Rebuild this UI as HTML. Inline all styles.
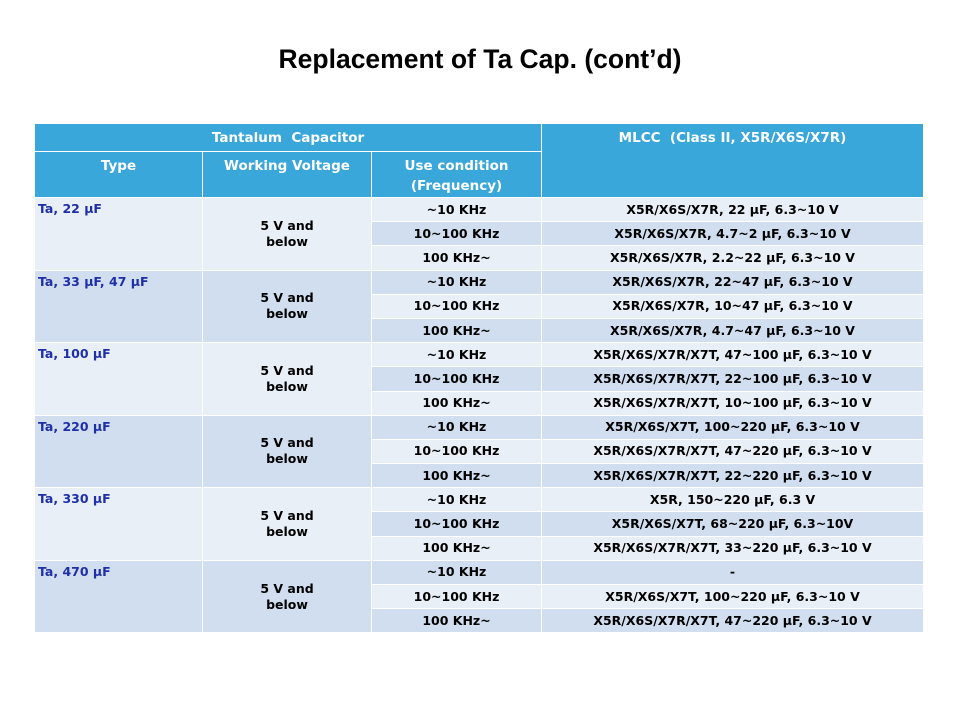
<!DOCTYPE html>
<html><head><meta charset="utf-8"><style>
html,body{margin:0;padding:0;width:960px;height:720px;background:#fff;overflow:hidden}
h1{position:absolute;top:44px;left:0;width:960px;text-align:center;margin:0;font:bold 26.5px "Liberation Sans",sans-serif;color:#000}
table{position:absolute;left:34px;top:123px;width:889px;border-collapse:collapse;font-family:"DejaVu Sans",sans-serif;font-weight:bold;table-layout:fixed}
td{border:1.5px solid #fff;padding:0;font-size:12.5px;color:#000;text-align:center;height:23.2px;line-height:16px}
th{border:1.5px solid #fff;background:#3aa7da;color:#fff;font-size:13.5px;font-weight:bold;vertical-align:top;padding-top:4px;line-height:20px}
.L{background:#e9eff7}.D{background:#d0deef}
td.t{color:#1f2fa8;text-align:left;vertical-align:top;padding-left:3px;padding-top:3px;font-size:12.5px}
</style></head><body>
<h1>Replacement of Ta Cap. (cont’d)</h1>
<table>
<colgroup><col style="width:168px"><col style="width:169px"><col style="width:170px"><col style="width:382px"></colgroup>
<tr><th colspan="3" style="height:22px">Tantalum&nbsp; Capacitor</th><th rowspan="2">MLCC&nbsp; (Class II, X5R/X6S/X7R)</th></tr>
<tr><th style="height:38px">Type</th><th>Working Voltage</th><th>Use condition<br>(Frequency)</th></tr>

<tr><td class="t L" rowspan="3">Ta, 22 μF</td><td class="L" rowspan="3">5 V and<br>below</td><td class="L">~10 KHz</td><td class="L">X5R/X6S/X7R, 22 μF, 6.3~10 V</td></tr>
<tr><td class="D">10~100 KHz</td><td class="D">X5R/X6S/X7R, 4.7~2 μF, 6.3~10 V</td></tr>
<tr><td class="L">100 KHz~</td><td class="L">X5R/X6S/X7R, 2.2~22 μF, 6.3~10 V</td></tr>

<tr><td class="t D" rowspan="3">Ta, 33 μF, 47 μF</td><td class="D" rowspan="3">5 V and<br>below</td><td class="D">~10 KHz</td><td class="D">X5R/X6S/X7R, 22~47 μF, 6.3~10 V</td></tr>
<tr><td class="L">10~100 KHz</td><td class="L">X5R/X6S/X7R, 10~47 μF, 6.3~10 V</td></tr>
<tr><td class="D">100 KHz~</td><td class="D">X5R/X6S/X7R, 4.7~47 μF, 6.3~10 V</td></tr>

<tr><td class="t L" rowspan="3">Ta, 100 μF</td><td class="L" rowspan="3">5 V and<br>below</td><td class="L">~10 KHz</td><td class="L">X5R/X6S/X7R/X7T, 47~100 μF, 6.3~10 V</td></tr>
<tr><td class="D">10~100 KHz</td><td class="D">X5R/X6S/X7R/X7T, 22~100 μF, 6.3~10 V</td></tr>
<tr><td class="L">100 KHz~</td><td class="L">X5R/X6S/X7R/X7T, 10~100 μF, 6.3~10 V</td></tr>

<tr><td class="t D" rowspan="3">Ta, 220 μF</td><td class="D" rowspan="3">5 V and<br>below</td><td class="D">~10 KHz</td><td class="D">X5R/X6S/X7T, 100~220 μF, 6.3~10 V</td></tr>
<tr><td class="L">10~100 KHz</td><td class="L">X5R/X6S/X7R/X7T, 47~220 μF, 6.3~10 V</td></tr>
<tr><td class="D">100 KHz~</td><td class="D">X5R/X6S/X7R/X7T, 22~220 μF, 6.3~10 V</td></tr>

<tr><td class="t L" rowspan="3">Ta, 330 μF</td><td class="L" rowspan="3">5 V and<br>below</td><td class="L">~10 KHz</td><td class="L">X5R, 150~220 μF, 6.3 V</td></tr>
<tr><td class="D">10~100 KHz</td><td class="D">X5R/X6S/X7T, 68~220 μF, 6.3~10V</td></tr>
<tr><td class="L">100 KHz~</td><td class="L">X5R/X6S/X7R/X7T, 33~220 μF, 6.3~10 V</td></tr>

<tr><td class="t D" rowspan="3">Ta, 470 μF</td><td class="D" rowspan="3">5 V and<br>below</td><td class="D">~10 KHz</td><td class="D">-</td></tr>
<tr><td class="L">10~100 KHz</td><td class="L">X5R/X6S/X7T, 100~220 μF, 6.3~10 V</td></tr>
<tr><td class="D">100 KHz~</td><td class="D">X5R/X6S/X7R/X7T, 47~220 μF, 6.3~10 V</td></tr>
</table>
</body></html>
